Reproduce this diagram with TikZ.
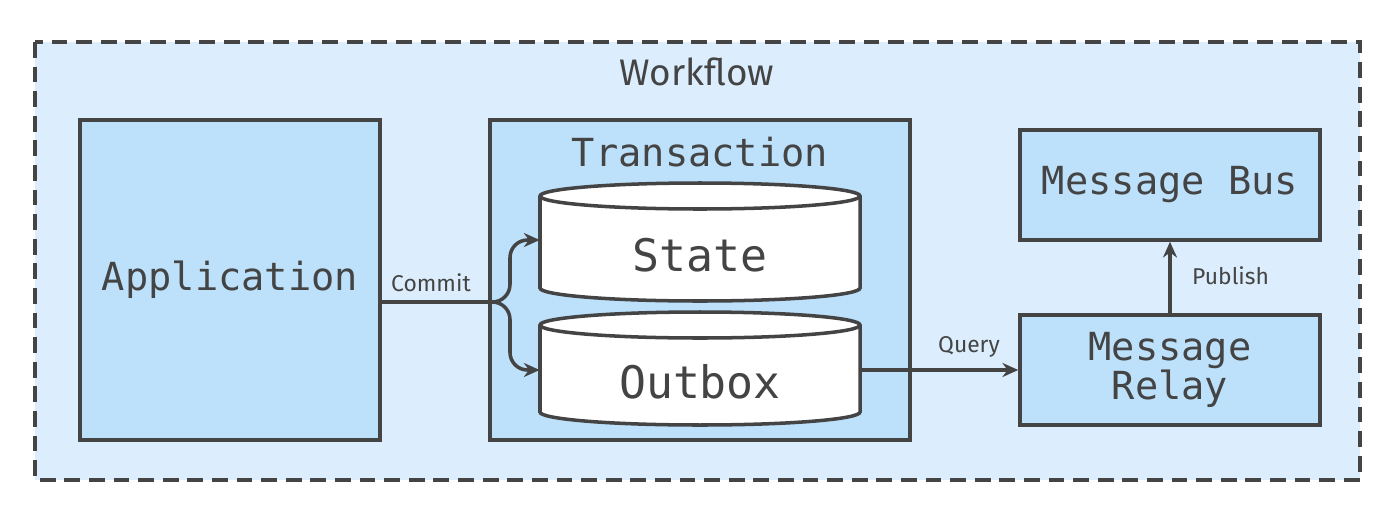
\documentclass[tikz,border=0pt]{standalone}
\usepackage{fontspec}
\setmainfont{Fira Sans}
\setmonofont{DejaVu Sans Mono}
\usetikzlibrary{arrows.meta}
\definecolor{edge}{HTML}{444444}
\definecolor{outerfill}{HTML}{DCEEFD}
\definecolor{boxfill}{HTML}{BDE1FB}
\tikzset{
  box/.style={draw=edge, line width=2pt, fill=boxfill, inner sep=0pt, text=edge, font=\ttfamily\fontsize{22}{26}\selectfont, align=center},
  link/.style={draw=edge, line width=2pt, -{Stealth[length=9pt,width=8pt]}},
  tag/.style={text=edge, font=\fontsize{13}{15}\selectfont}
}
\begin{document}
\begin{tikzpicture}[x=0.2mm, y=-0.2mm]
    \useasboundingbox (0,0) rectangle (1400,520);

    % workflow frame
    \draw[draw=edge, line width=2pt, dash pattern=on 9pt off 5pt, fill=outerfill] (35,42) rectangle (1360,480);
    \node[text=edge, font=\fontsize{21}{25}\selectfont] (wf) at (697,72) {Workflow};

    % boxes
    \node[box, minimum width=60mm, minimum height=64mm] (app) at (230,280) {Application};
    \draw[box] (490,120) rectangle (910,440);
    \node[text=edge, font=\ttfamily\fontsize{22}{26}\selectfont] (tx) at (700,152) {Transaction};
    \node[box, minimum width=60mm, minimum height=22mm] (bus) at (1170,185) {Message Bus};
    \node[box, minimum width=60mm, minimum height=22mm] (relay) at (1170,370) {Message\\[-4pt]Relay};

    % cylinders
    \foreach \name/\yt/\yb/\txt in {state/196/288/State, outbox/325/412/Outbox} {
      \draw[draw=edge, line width=2pt, fill=white]
        (540,\yt) -- (540,\yb) arc[start angle=180, end angle=0, x radius=160, y radius=13]
        -- (860,\yt) arc[start angle=0, end angle=-180, x radius=160, y radius=13] -- cycle;
      \draw[draw=edge, line width=2pt] (540,\yt) arc[start angle=180, end angle=0, x radius=160, y radius=13];
      \node[text=edge, font=\ttfamily\fontsize{25.5}{30}\selectfont, minimum width=64mm, minimum height=18mm, inner sep=0pt] (\name) at (700,{(\yt+\yb)/2+13}) {\txt};
    }

    % connectors
    \coordinate (fork) at (495,302);
    \draw[draw=edge, line width=2pt] (app.east |- fork) -- (fork);
    \draw[link, rounded corners=10pt] (fork) -- (510,302) -- (510,240) -- (state.west |- 0,240);
    \draw[link, rounded corners=10pt] (fork) -- (510,302) -- (510,370) -- (outbox.west |- 0,370);
    \node[tag] (commit) at (431,283) {Commit};
    \draw[link] (outbox.east |- relay.west) -- (relay.west);
    \node[tag] (query) at (969,347) {Query};
    \draw[link] (relay.north) -- (bus.south);
    \node[tag, anchor=west] (publish) at (1186,276) {Publish};
\end{tikzpicture}
\end{document}
